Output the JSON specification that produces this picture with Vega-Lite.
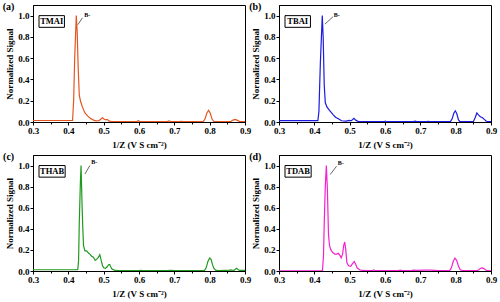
{
  "$schema": "https://vega.github.io/schema/vega-lite/v6.json",
  "padding": {"left": 2, "top": 1, "right": 2, "bottom": 2},
  "autosize": {"type": "pad"},
  "config": {
    "font": "Liberation Serif",
    "view": {"stroke": "black", "strokeWidth": 1},
    "axis": {"labelFont": "Liberation Serif", "labelFontWeight": "bold", "labelFontSize": 9, "labelColor": "black", "titleFont": "Liberation Serif", "titleFontWeight": "bold", "titleFontSize": 9, "titleColor": "black", "domainColor": "black", "tickColor": "black", "grid": false, "tickSize": 3, "labelPadding": 1, "labelOverlap": false, "labelBound": false, "labelFlush": false},
    "text": {"font": "Liberation Serif", "fontWeight": "bold", "color": "black"}
  },
  "columns": 2,
  "spacing": {"row": 33, "column": 34},
  "bounds": "flush",
  "datasets": {
    "a": [
      {"x":0.30,"y":0.014},{"x":0.35,"y":0.014},{"x":0.40,"y":0.014},{"x":0.412,"y":0.014},{"x":0.415,"y":0.2},{"x":0.418,"y":0.6},{"x":0.4225,"y":1.0},{"x":0.425,"y":0.85},{"x":0.428,"y":0.5},{"x":0.431,"y":0.25},{"x":0.435,"y":0.19},{"x":0.44,"y":0.14},{"x":0.447,"y":0.085},{"x":0.455,"y":0.055},{"x":0.462,"y":0.035},{"x":0.47,"y":0.02},{"x":0.478,"y":0.01},{"x":0.487,"y":0.012},{"x":0.493,"y":0.03},{"x":0.497,"y":0.04},{"x":0.502,"y":0.025},{"x":0.506,"y":0.02},{"x":0.51,"y":0.025},{"x":0.515,"y":0.01},{"x":0.52,"y":0.004},{"x":0.55,"y":0.004},{"x":0.594,"y":0.004},{"x":0.598,"y":0.012},{"x":0.603,"y":0.004},{"x":0.68,"y":0.004},{"x":0.685,"y":0.01},{"x":0.69,"y":0.004},{"x":0.715,"y":0.004},{"x":0.72,"y":0.007},{"x":0.725,"y":0.004},{"x":0.782,"y":0.004},{"x":0.787,"y":0.03},{"x":0.792,"y":0.085},{"x":0.797,"y":0.11},{"x":0.802,"y":0.08},{"x":0.807,"y":0.025},{"x":0.812,"y":0.004},{"x":0.86,"y":0.004},{"x":0.866,"y":0.018},{"x":0.872,"y":0.025},{"x":0.879,"y":0.015},{"x":0.885,"y":0.004},{"x":0.9,"y":0.004}
    ],
    "b": [
      {"x":0.30,"y":0.012},{"x":0.35,"y":0.012},{"x":0.41,"y":0.012},{"x":0.413,"y":0.1},{"x":0.417,"y":0.55},{"x":0.4225,"y":1.0},{"x":0.425,"y":0.8},{"x":0.428,"y":0.35},{"x":0.431,"y":0.18},{"x":0.436,"y":0.14},{"x":0.443,"y":0.11},{"x":0.453,"y":0.07},{"x":0.46,"y":0.045},{"x":0.468,"y":0.03},{"x":0.477,"y":0.012},{"x":0.49,"y":0.008},{"x":0.499,"y":0.015},{"x":0.505,"y":0.012},{"x":0.512,"y":0.035},{"x":0.518,"y":0.015},{"x":0.525,"y":0.004},{"x":0.55,"y":0.003},{"x":0.597,"y":0.003},{"x":0.601,"y":0.009},{"x":0.605,"y":0.003},{"x":0.68,"y":0.003},{"x":0.685,"y":0.008},{"x":0.69,"y":0.003},{"x":0.718,"y":0.003},{"x":0.722,"y":0.006},{"x":0.727,"y":0.003},{"x":0.785,"y":0.003},{"x":0.79,"y":0.03},{"x":0.795,"y":0.085},{"x":0.799,"y":0.105},{"x":0.803,"y":0.08},{"x":0.808,"y":0.02},{"x":0.812,"y":0.003},{"x":0.85,"y":0.003},{"x":0.855,"y":0.04},{"x":0.86,"y":0.085},{"x":0.865,"y":0.065},{"x":0.87,"y":0.05},{"x":0.876,"y":0.04},{"x":0.881,"y":0.025},{"x":0.886,"y":0.01},{"x":0.89,"y":0.003},{"x":0.9,"y":0.003}
    ],
    "c": [
      {"x":0.30,"y":0.012},{"x":0.35,"y":0.012},{"x":0.40,"y":0.012},{"x":0.425,"y":0.012},{"x":0.427,"y":0.02},{"x":0.429,"y":0.1},{"x":0.431,"y":0.46},{"x":0.434,"y":0.83},{"x":0.436,"y":1.0},{"x":0.439,"y":0.61},{"x":0.441,"y":0.4},{"x":0.443,"y":0.24},{"x":0.447,"y":0.19},{"x":0.452,"y":0.19},{"x":0.457,"y":0.17},{"x":0.461,"y":0.16},{"x":0.466,"y":0.14},{"x":0.471,"y":0.13},{"x":0.476,"y":0.1},{"x":0.48,"y":0.11},{"x":0.485,"y":0.13},{"x":0.489,"y":0.155},{"x":0.493,"y":0.1},{"x":0.497,"y":0.05},{"x":0.5,"y":0.03},{"x":0.505,"y":0.025},{"x":0.51,"y":0.04},{"x":0.514,"y":0.06},{"x":0.517,"y":0.063},{"x":0.52,"y":0.04},{"x":0.523,"y":0.02},{"x":0.53,"y":0.008},{"x":0.54,"y":0.003},{"x":0.6,"y":0.003},{"x":0.605,"y":0.006},{"x":0.61,"y":0.003},{"x":0.68,"y":0.003},{"x":0.69,"y":0.006},{"x":0.70,"y":0.003},{"x":0.785,"y":0.003},{"x":0.79,"y":0.03},{"x":0.795,"y":0.09},{"x":0.8,"y":0.123},{"x":0.804,"y":0.11},{"x":0.808,"y":0.06},{"x":0.812,"y":0.025},{"x":0.817,"y":0.008},{"x":0.825,"y":0.003},{"x":0.85,"y":0.005},{"x":0.86,"y":0.01},{"x":0.868,"y":0.005},{"x":0.872,"y":0.015},{"x":0.876,"y":0.025},{"x":0.88,"y":0.015},{"x":0.885,"y":0.005},{"x":0.9,"y":0.005}
    ],
    "d": [
      {"x":0.30,"y":0.002},{"x":0.35,"y":0.002},{"x":0.40,"y":0.002},{"x":0.423,"y":0.002},{"x":0.426,"y":0.15},{"x":0.428,"y":0.45},{"x":0.431,"y":0.8},{"x":0.434,"y":1.0},{"x":0.437,"y":0.77},{"x":0.44,"y":0.35},{"x":0.443,"y":0.24},{"x":0.447,"y":0.2},{"x":0.452,"y":0.175},{"x":0.458,"y":0.16},{"x":0.464,"y":0.16},{"x":0.468,"y":0.168},{"x":0.472,"y":0.15},{"x":0.476,"y":0.125},{"x":0.48,"y":0.16},{"x":0.483,"y":0.24},{"x":0.486,"y":0.275},{"x":0.489,"y":0.2},{"x":0.492,"y":0.08},{"x":0.497,"y":0.05},{"x":0.503,"y":0.045},{"x":0.508,"y":0.07},{"x":0.513,"y":0.09},{"x":0.517,"y":0.065},{"x":0.521,"y":0.03},{"x":0.528,"y":0.012},{"x":0.535,"y":0.005},{"x":0.55,"y":0.003},{"x":0.563,"y":0.003},{"x":0.568,"y":0.01},{"x":0.573,"y":0.003},{"x":0.638,"y":0.003},{"x":0.643,"y":0.008},{"x":0.648,"y":0.003},{"x":0.675,"y":0.003},{"x":0.68,"y":0.008},{"x":0.69,"y":0.006},{"x":0.71,"y":0.009},{"x":0.73,"y":0.008},{"x":0.75,"y":0.003},{"x":0.783,"y":0.003},{"x":0.788,"y":0.03},{"x":0.793,"y":0.09},{"x":0.798,"y":0.123},{"x":0.803,"y":0.1},{"x":0.808,"y":0.045},{"x":0.813,"y":0.012},{"x":0.82,"y":0.003},{"x":0.862,"y":0.003},{"x":0.868,"y":0.018},{"x":0.874,"y":0.03},{"x":0.879,"y":0.025},{"x":0.885,"y":0.01},{"x":0.89,"y":0.003},{"x":0.9,"y":0.002}
    ]
  },
  "concat": [
    {
      "width": 212, "height": 117,
      "layer": [
        {"data": {"name": "a"}, "mark": {"type": "line", "color": "#e4561f", "strokeWidth": 1.2, "clip": true},
         "encoding": {
           "x": {"field": "x", "type": "quantitative", "scale": {"domain": [0.3, 0.9], "nice": false, "zero": false},
                 "axis": {"values": [0.3,0.35,0.4,0.45,0.5,0.55,0.6,0.65,0.7,0.75,0.8,0.85,0.9], "tickCount": 100, "labelExpr": "round(datum.value*100) % 10 == 0 ? format(datum.value, '.1f') : ''", "tickSize": {"condition": {"test": "round(datum.value*100) % 10 != 0", "value": 2}, "value": 3}, "labelOverlap": false, "title": "1/Z (V S cm⁻²)", "titlePadding": 5}},
           "y": {"field": "y", "type": "quantitative", "scale": {"domain": [0, 1.1], "nice": false},
                 "axis": {"values": [0,0.2,0.4,0.6,0.8,1.0], "tickCount": 100, "format": ".1f", "labelOverlap": false, "title": "Normalized Signal", "titlePadding": 3}}
         }},
        {"data": {"values": [{}]}, "mark": {"type": "rect", "fill": "white", "stroke": "black", "strokeWidth": 1},
         "encoding": {"x": {"datum": 0.317, "type": "quantitative"}, "x2": {"datum": 0.389}, "y": {"datum": 0.89, "type": "quantitative"}, "y2": {"datum": 1.0}}},
        {"data": {"values": [{"t": "TMAI"}]}, "mark": {"type": "text", "fontSize": 8.5, "fontWeight": "bold"},
         "encoding": {"x": {"datum": 0.353, "type": "quantitative"}, "y": {"datum": 0.945, "type": "quantitative"}, "text": {"field": "t"}}},
        {"data": {"values": [{}]}, "mark": {"type": "rule", "color": "black", "strokeWidth": 0.6},
         "encoding": {"x": {"datum": 0.427, "type": "quantitative"}, "y": {"datum": 0.915, "type": "quantitative"}, "x2": {"datum": 0.44}, "y2": {"datum": 0.98}}},
        {"data": {"values": [{"t": "B-"}]}, "mark": {"type": "text", "fontSize": 6, "align": "left"},
         "encoding": {"x": {"datum": 0.445, "type": "quantitative"}, "y": {"datum": 1.01, "type": "quantitative"}, "text": {"field": "t"}}},
        {"data": {"values": [{"t": "(a)"}]}, "mark": {"type": "text", "fontSize": 10},
         "encoding": {"x": {"datum": 0.231, "type": "quantitative"}, "y": {"datum": 1.077, "type": "quantitative"}, "text": {"field": "t"}}}
      ]
    },
    {
      "width": 212, "height": 117,
      "layer": [
        {"data": {"name": "b"}, "mark": {"type": "line", "color": "#1a1ae0", "strokeWidth": 1.2, "clip": true},
         "encoding": {
           "x": {"field": "x", "type": "quantitative", "scale": {"domain": [0.3, 0.9], "nice": false, "zero": false},
                 "axis": {"values": [0.3,0.35,0.4,0.45,0.5,0.55,0.6,0.65,0.7,0.75,0.8,0.85,0.9], "tickCount": 100, "labelExpr": "round(datum.value*100) % 10 == 0 ? format(datum.value, '.1f') : ''", "tickSize": {"condition": {"test": "round(datum.value*100) % 10 != 0", "value": 2}, "value": 3}, "labelOverlap": false, "title": "1/Z (V S cm⁻²)", "titlePadding": 5}},
           "y": {"field": "y", "type": "quantitative", "scale": {"domain": [0, 1.1], "nice": false},
                 "axis": {"values": [0,0.2,0.4,0.6,0.8,1.0], "tickCount": 100, "format": ".1f", "labelOverlap": false, "title": "Normalized Signal", "titlePadding": 3}}
         }},
        {"data": {"values": [{}]}, "mark": {"type": "rect", "fill": "white", "stroke": "black", "strokeWidth": 1},
         "encoding": {"x": {"datum": 0.317, "type": "quantitative"}, "x2": {"datum": 0.389}, "y": {"datum": 0.89, "type": "quantitative"}, "y2": {"datum": 1.0}}},
        {"data": {"values": [{"t": "TBAI"}]}, "mark": {"type": "text", "fontSize": 8.5, "fontWeight": "bold"},
         "encoding": {"x": {"datum": 0.353, "type": "quantitative"}, "y": {"datum": 0.945, "type": "quantitative"}, "text": {"field": "t"}}},
        {"data": {"values": [{}]}, "mark": {"type": "rule", "color": "black", "strokeWidth": 0.6},
         "encoding": {"x": {"datum": 0.43, "type": "quantitative"}, "y": {"datum": 0.92, "type": "quantitative"}, "x2": {"datum": 0.453}, "y2": {"datum": 0.99}}},
        {"data": {"values": [{"t": "B-"}]}, "mark": {"type": "text", "fontSize": 6, "align": "left"},
         "encoding": {"x": {"datum": 0.455, "type": "quantitative"}, "y": {"datum": 1.01, "type": "quantitative"}, "text": {"field": "t"}}},
        {"data": {"values": [{"t": "(b)"}]}, "mark": {"type": "text", "fontSize": 10},
         "encoding": {"x": {"datum": 0.233, "type": "quantitative"}, "y": {"datum": 1.077, "type": "quantitative"}, "text": {"field": "t"}}}
      ]
    },
    {
      "width": 212, "height": 116,
      "layer": [
        {"data": {"name": "c"}, "mark": {"type": "line", "color": "#1f9a1f", "strokeWidth": 1.2, "clip": true},
         "encoding": {
           "x": {"field": "x", "type": "quantitative", "scale": {"domain": [0.3, 0.9], "nice": false, "zero": false},
                 "axis": {"values": [0.3,0.35,0.4,0.45,0.5,0.55,0.6,0.65,0.7,0.75,0.8,0.85,0.9], "tickCount": 100, "labelExpr": "round(datum.value*100) % 10 == 0 ? format(datum.value, '.1f') : ''", "tickSize": {"condition": {"test": "round(datum.value*100) % 10 != 0", "value": 2}, "value": 3}, "labelOverlap": false, "title": "1/Z (V S cm⁻²)", "titlePadding": 5}},
           "y": {"field": "y", "type": "quantitative", "scale": {"domain": [0, 1.1], "nice": false},
                 "axis": {"values": [0,0.2,0.4,0.6,0.8,1.0], "tickCount": 100, "format": ".1f", "labelOverlap": false, "title": "Normalized Signal", "titlePadding": 3}}
         }},
        {"data": {"values": [{}]}, "mark": {"type": "rect", "fill": "white", "stroke": "black", "strokeWidth": 1},
         "encoding": {"x": {"datum": 0.317, "type": "quantitative"}, "x2": {"datum": 0.391}, "y": {"datum": 0.89, "type": "quantitative"}, "y2": {"datum": 1.0}}},
        {"data": {"values": [{"t": "THAB"}]}, "mark": {"type": "text", "fontSize": 8.5, "fontWeight": "bold"},
         "encoding": {"x": {"datum": 0.354, "type": "quantitative"}, "y": {"datum": 0.945, "type": "quantitative"}, "text": {"field": "t"}}},
        {"data": {"values": [{}]}, "mark": {"type": "rule", "color": "black", "strokeWidth": 0.6},
         "encoding": {"x": {"datum": 0.447, "type": "quantitative"}, "y": {"datum": 0.92, "type": "quantitative"}, "x2": {"datum": 0.461}, "y2": {"datum": 1.0}}},
        {"data": {"values": [{"t": "B-"}]}, "mark": {"type": "text", "fontSize": 6, "align": "left"},
         "encoding": {"x": {"datum": 0.465, "type": "quantitative"}, "y": {"datum": 1.03, "type": "quantitative"}, "text": {"field": "t"}}},
        {"data": {"values": [{"t": "(c)"}]}, "mark": {"type": "text", "fontSize": 10},
         "encoding": {"x": {"datum": 0.231, "type": "quantitative"}, "y": {"datum": 1.077, "type": "quantitative"}, "text": {"field": "t"}}}
      ]
    },
    {
      "width": 212, "height": 116,
      "layer": [
        {"data": {"name": "d"}, "mark": {"type": "line", "color": "#f520d0", "strokeWidth": 1.2, "clip": true},
         "encoding": {
           "x": {"field": "x", "type": "quantitative", "scale": {"domain": [0.3, 0.9], "nice": false, "zero": false},
                 "axis": {"values": [0.3,0.35,0.4,0.45,0.5,0.55,0.6,0.65,0.7,0.75,0.8,0.85,0.9], "tickCount": 100, "labelExpr": "round(datum.value*100) % 10 == 0 ? format(datum.value, '.1f') : ''", "tickSize": {"condition": {"test": "round(datum.value*100) % 10 != 0", "value": 2}, "value": 3}, "labelOverlap": false, "title": "1/Z (V S cm⁻²)", "titlePadding": 5}},
           "y": {"field": "y", "type": "quantitative", "scale": {"domain": [0, 1.1], "nice": false},
                 "axis": {"values": [0,0.2,0.4,0.6,0.8,1.0], "tickCount": 100, "format": ".1f", "labelOverlap": false, "title": "Normalized Signal", "titlePadding": 3}}
         }},
        {"data": {"values": [{}]}, "mark": {"type": "rect", "fill": "white", "stroke": "black", "strokeWidth": 1},
         "encoding": {"x": {"datum": 0.317, "type": "quantitative"}, "x2": {"datum": 0.391}, "y": {"datum": 0.89, "type": "quantitative"}, "y2": {"datum": 1.0}}},
        {"data": {"values": [{"t": "TDAB"}]}, "mark": {"type": "text", "fontSize": 8.5, "fontWeight": "bold"},
         "encoding": {"x": {"datum": 0.354, "type": "quantitative"}, "y": {"datum": 0.945, "type": "quantitative"}, "text": {"field": "t"}}},
        {"data": {"values": [{}]}, "mark": {"type": "rule", "color": "black", "strokeWidth": 0.6},
         "encoding": {"x": {"datum": 0.445, "type": "quantitative"}, "y": {"datum": 0.915, "type": "quantitative"}, "x2": {"datum": 0.463}, "y2": {"datum": 0.994}}},
        {"data": {"values": [{"t": "B-"}]}, "mark": {"type": "text", "fontSize": 6, "align": "left"},
         "encoding": {"x": {"datum": 0.466, "type": "quantitative"}, "y": {"datum": 1.02, "type": "quantitative"}, "text": {"field": "t"}}},
        {"data": {"values": [{"t": "(d)"}]}, "mark": {"type": "text", "fontSize": 10},
         "encoding": {"x": {"datum": 0.233, "type": "quantitative"}, "y": {"datum": 1.077, "type": "quantitative"}, "text": {"field": "t"}}}
      ]
    }
  ]
}
